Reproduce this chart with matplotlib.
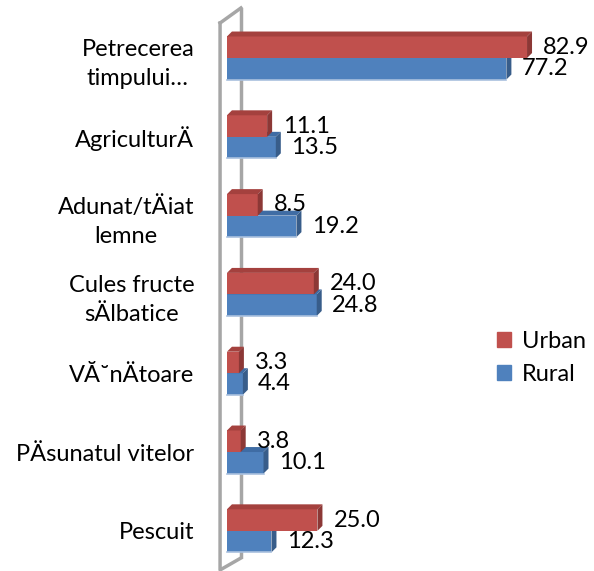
import matplotlib.pyplot as plt
from matplotlib.patches import Polygon

plt.rcParams['font.family'] = ['Lato', 'DejaVu Sans']

# date
categorii = ['Petrecerea\ntimpului…', 'AgriculturÄ', 'Adunat/tÄiat\nlemne',
             'Cules fructe\nsÄlbatice', 'VĂ˘nÄtoare', 'PÄsunatul vitelor', 'Pescuit']
urban = [82.9, 11.1, 8.5, 24.0, 3.3, 3.8, 25.0]
rural = [77.2, 13.5, 19.2, 24.8, 4.4, 10.1, 12.3]

c_urban = ('#C0504D', '#A4413E', '#8C3836')   # fata, sus, lateral
c_rural = ('#4F81BD', '#3F6CA4', '#385D8A')

h = 0.273       # inaltime bara
ddx = 1.38      # adancime 3D pe x (unitati date)
ddy = 0.063     # adancime 3D pe y

fig = plt.figure(figsize=(5.94, 5.71), dpi=100)
ax = fig.add_axes([215/594, 0, 1 - 215/594, 1])
ax.set_xlim(-3.3, 101.4)
ax.set_ylim(6.51, -0.736)

# peretele din spate (cadru gri)
wx0, wx1 = -1.9, 3.87
ax.plot([wx1, wx1], [-0.635, 6.345], color='#A6A6A6', lw=2.5, zorder=1, solid_capstyle='butt')
ax.plot([wx0, wx0, wx1], [-0.444, 6.497, 6.345], color='#A6A6A6', lw=2.5, zorder=1)
ax.plot([wx0, wx1], [-0.444, -0.635], color='#A6A6A6', lw=2.5, zorder=1)


def bara3d(v, y0, cols, z):
    y1 = y0 + h
    ax.barh(y0, v, height=h, align='edge', color=cols[0], zorder=z)
    ax.add_patch(Polygon([(0, y0), (v, y0), (v + ddx, y0 - ddy), (ddx, y0 - ddy)],
                         closed=True, color=cols[1], zorder=z, lw=0))
    ax.add_patch(Polygon([(v, y0), (v, y1), (v + ddx, y1 - ddy), (v + ddx, y0 - ddy)],
                         closed=True, color=cols[2], zorder=z, lw=0))


for i in range(len(categorii)):
    bara3d(rural[i], i, c_rural, 2)
    ax.plot([0, rural[i]], [i + h, i + h], color='#A9C0DE', lw=1.2, zorder=2)
    bara3d(urban[i], i - h, c_urban, 3)
    ax.annotate('%.1f' % urban[i], (urban[i], i - h / 2), xytext=(11.5, 0),
                textcoords='offset points', va='center', ha='left', fontsize=17, zorder=5)
    ax.annotate('%.1f' % rural[i], (rural[i], i + h / 2), xytext=(11, 0),
                textcoords='offset points', va='center', ha='left', fontsize=17, zorder=5)

ax.set_yticks(range(len(categorii)))
ax.set_yticklabels(categorii, fontsize=17)
for t in ax.get_yticklabels():
    t.set_multialignment('center')
    t.set_linespacing(1.45)
ax.tick_params(axis='y', length=0, pad=15)
ax.set_xticks([])
for s in ax.spines.values():
    s.set_visible(False)

hs = [plt.Rectangle((0, 0), 1, 1, color=c_urban[0]), plt.Rectangle((0, 0), 1, 1, color=c_rural[0])]
fig.legend(hs, ['Urban', 'Rural'], loc='center left', bbox_to_anchor=(476/594, 1 - 358/571),
           frameon=False, fontsize=17, handlelength=0.6, handleheight=0.6,
           handletextpad=0.45, labelspacing=0.5)

fig.savefig('out.png', dpi=100)
